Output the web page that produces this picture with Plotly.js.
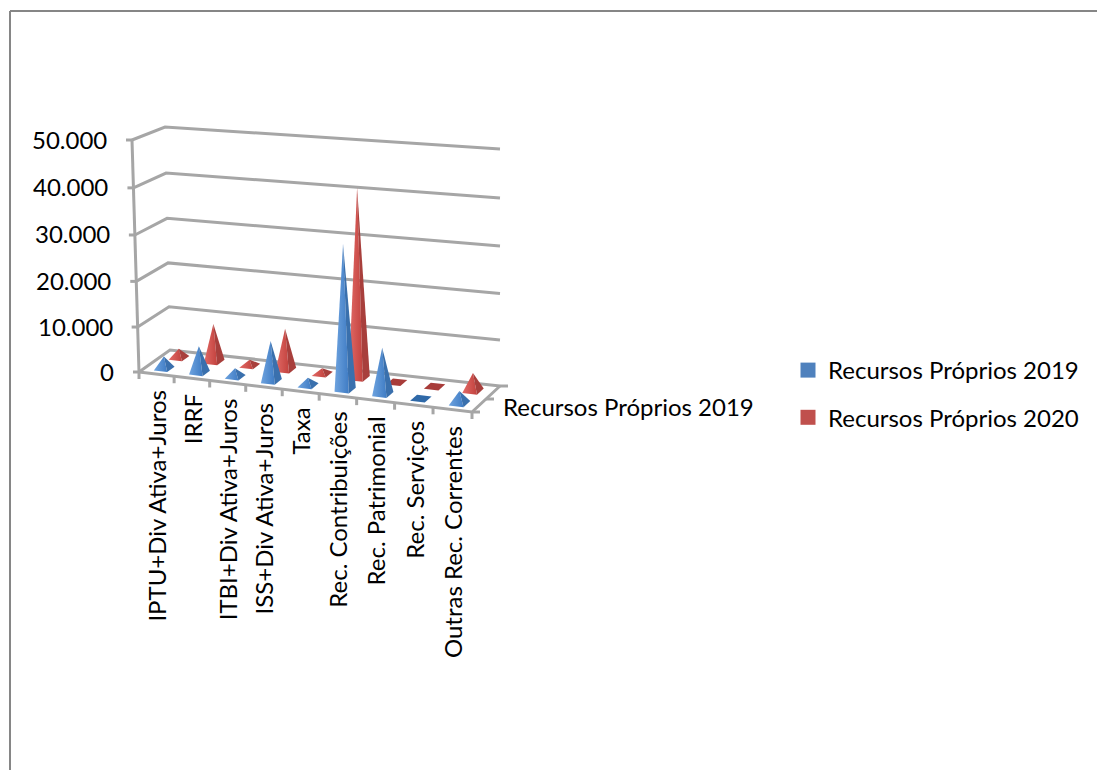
<!DOCTYPE html>
<html>
<head>
<meta charset="utf-8">
<script src="https://cdn.plot.ly/plotly-3.0.1.min.js"></script>
<style>html,body{margin:0;padding:0;background:#fff}#chart{width:1097px;height:770px}</style>
</head>
<body>
<div id="chart"></div>
<script>
// Receitas próprias por categoria, em milhares
const categories = ["IPTU+Div Ativa+Juros","IRRF","ITBI+Div Ativa+Juros","ISS+Div Ativa+Juros","Taxa","Rec. Contribuições","Rec. Patrimonial","Rec. Serviços","Outras Rec. Correntes"];
const recursos2019 = [2700,5900,1900,8800,1700,31000,10000,100,2600];
const recursos2020 = [2100,8600,1400,9200,1300,41000,100,100,3900];
const seriesNames = ["Recursos Próprios 2019","Recursos Próprios 2020"];
const valueTicks = [0,10000,20000,30000,40000,50000];
const valueLabels = ["0","10.000","20.000","30.000","40.000","50.000"];
const depthLabel = "Recursos Próprios 2019";

// Box corners of the oblique 3D view, in plot units: [floor, top] per corner
const corners = {
  fl:[[139,372],[132,140]], fr:[[472,412],[470,165]],
  bl:[[170,350],[165,127]], br:[[500,386],[500,149]]
};
const VMAX = 50000, PERSP_U = 1.06, PERSP_V = 1.04;
const warp = (t,k) => t/(t+(1-t)*k);
const mix = (a,b,t) => [a[0]+(b[0]-a[0])*t, a[1]+(b[1]-a[1])*t];

// Projects category position u (0..1), depth d (0..1) and a value onto the plot plane
function project(u,d,v){
  const w = warp(u,PERSP_U), t = warp(v/VMAX,PERSP_V);
  const front = mix(mix(corners.fl[0],corners.fr[0],w), mix(corners.fl[1],corners.fr[1],w), t);
  const back  = mix(mix(corners.bl[0],corners.br[0],w), mix(corners.bl[1],corners.br[1],w), t);
  return mix(front,back,d);
}

const GRID = "#a6a6a6", BASE_W = 3;
const traces = [];
function line(pts,width,color){
  traces.push({type:"scatter",mode:"lines",x:pts.map(p=>p[0]),y:pts.map(p=>p[1]),
    line:{color:color||GRID,width:width||BASE_W},showlegend:false,hoverinfo:"skip"});
}

// Back wall and side wall gridlines
valueTicks.forEach(v=>{
  line([project(0,0,v),project(0,1,v),project(1,1,v)]);
});
line([project(0,0,0),project(0,0,VMAX)]);
// Floor outline
line([project(0,0,0),project(1,0,0),project(1,1,0)]);
// Value-axis tick marks
valueTicks.forEach(v=>{ const p=project(0,0,v); line([[p[0]-6,p[1]],p]); });
// Category tick marks along the front edge
categories.concat([""]).forEach((c,i)=>{ const p=project(i/categories.length,0,0); line([p,[p[0],p[1]+7]]); });
// Depth tick marks on the right edge
[0,0.5,1].forEach(d=>{ const p=project(1,d,0); line([p,[p[0]+8,p[1]]]); });

// Pyramids: front face and right face, back row first
const HALF_U = 0.19, HALF_D = 0.12;
const palette = [
  {front:["#6ea3df","#3f7cc4"],side:"#3a70ad",flat:"#2f69a8"},
  {front:["#e26a66","#c2423e"],side:"#a83f3c",flat:"#a83c3a"}
];
function pyramid(catIndex,depth,value,style){
  const u = (catIndex+0.5)/categories.length, du = HALF_U/categories.length;
  const L = project(u-du,depth-HALF_D,0), B = project(u+du,depth-HALF_D,0),
        R = project(u+du,depth+HALF_D,0), K = project(u-du,depth+HALF_D,0),
        A = project(u,depth,value);
  const flat = value < 300;
  const face = (pts,fill,grad)=>{
    const t = {type:"scatter",mode:"lines",x:pts.map(p=>p[0]).concat(pts[0][0]),y:pts.map(p=>p[1]).concat(pts[0][1]),
      fill:"toself",line:{width:0,color:"rgba(0,0,0,0)"},showlegend:false,hoverinfo:"skip"};
    if(grad){ t.fillgradient={type:"horizontal",colorscale:[[0,grad[0]],[1,grad[1]]]}; }
    else t.fillcolor=fill;
    traces.push(t);
  };
  if(flat){ face([L,B,R,K],style.flat); return; }
  face([L,B,A],null,style.front);
  face([B,R,A],style.side);
}
[[recursos2020,0.73,palette[1]],[recursos2019,0.25,palette[0]]].forEach(([vals,d,st])=>{
  vals.forEach((v,i)=>pyramid(i,d,v,st));
});

// Legend entries
seriesNames.forEach((n,i)=>{
  traces.push({type:"scatter",mode:"markers",x:[null],y:[null],name:n,legendgroup:n,
    marker:{symbol:"square",size:15,color:["#4f81bd","#c0504d"][i]},hoverinfo:"skip"});
});

const FONT = "Lato, Carlito, Calibri, sans-serif", TXT = "#000", SIZE = 24;
const annotations = [];
valueTicks.forEach((v,i)=>{
  const p = project(0,0,v);
  annotations.push({x:p[0]-23,y:p[1]-1,xref:"x",yref:"y",text:valueLabels[i],showarrow:false,xanchor:"right",yanchor:"middle",font:{family:FONT,size:SIZE,color:TXT}});
});
categories.forEach((c,i)=>{
  const p = project((i+0.5)/categories.length,0,0);
  annotations.push({x:p[0],y:p[1]+14,xref:"x",yref:"y",text:c,textangle:-90,showarrow:false,xanchor:"center",yanchor:"top",font:{family:FONT,size:SIZE,color:TXT}});
});
annotations.push({x:501,y:406,xref:"x",yref:"y",text:depthLabel,showarrow:false,xanchor:"left",yanchor:"middle",font:{family:FONT,size:SIZE,color:TXT}});

const layout = {
  width:1097,height:770,margin:{l:0,r:0,t:0,b:0},
  paper_bgcolor:"#fff",plot_bgcolor:"#fff",
  xaxis:{range:[0,1097],visible:false,fixedrange:true},
  yaxis:{range:[770,0],visible:false,fixedrange:true},
  annotations,
  shapes:[{type:"line",xref:"x",yref:"y",x0:10,y0:11,x1:1097,y1:11,line:{color:"#868686",width:2}},
          {type:"line",xref:"x",yref:"y",x0:10,y0:11,x1:10,y1:770,line:{color:"#868686",width:2}}],
  showlegend:true,
  legend:{x:788/1097,y:1-348/770,xanchor:"left",yanchor:"top",bgcolor:"rgba(0,0,0,0)",tracegroupgap:13,font:{family:FONT,size:SIZE,color:TXT}}
};
Plotly.newPlot("chart",traces,layout,{displayModeBar:false,staticPlot:true});
</script>
</body>
</html>
